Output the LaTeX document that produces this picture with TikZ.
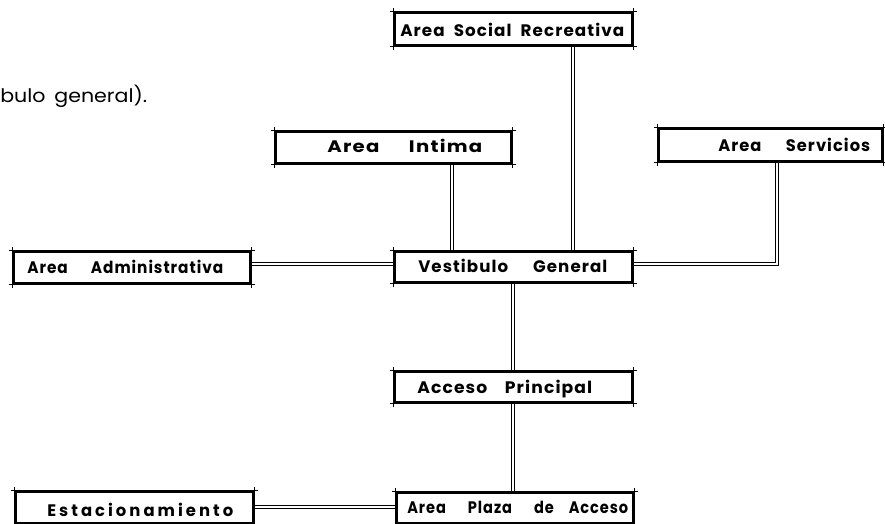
\documentclass[tikz,border=0pt]{standalone}
\usepackage{fontspec}
\usepackage{graphicx}
\usetikzlibrary{calc}
\newfontfamily\labfont{Poppins}
\newlength\lsgap
\newlength\wgap
\setlength\wgap{6pt}
\def\lsp#1{\lsi#1\relax\unskip}
\def\lsi#1{\ifx#1\relax\else\ifx#1|\hskip\wgap\else#1\hskip\lsgap\fi\expandafter\lsi\fi}
\newsavebox\labbox
\newcommand\lab[3][0.8pt]{%
  \setlength\lsgap{#1}%
  \sbox\labbox{\lsp{#3}}%
  \pgfmathsetmacro\labsx{(#2*0.75)/\the\wd\labbox}%
  \scalebox{\labsx}[1]{\usebox\labbox}}
\pgfdeclarelayer{bg}
\pgfsetlayers{bg,main}
\tikzset{
  box/.style={draw, line width=1.8pt, inner sep=0pt},
  lbl/.style={inner sep=0pt, anchor=base west, font={\labfont\bfseries\fontsize{12.5}{14}\selectfont}},
  note/.style={inner sep=0pt, anchor=base west, font={\labfont\fontsize{14}{16}\selectfont}},
  conn/.style={draw, line width=1.3pt, double=white, double distance=0.9pt},
  tick/.style={line width=0.5pt},
}
\newcommand\boxnode[5]{%
  \node[box, minimum width={(#4-#2)*0.75pt}, minimum height={(#5-#3)*0.75pt}] (#1) at ({(#2+#4)/2},{(#3+#5)/2}) {};}
\newcommand\ticks[1]{%
  \draw[tick] ($(#1.north west)+(-4,0)$) -- ($(#1.north east)+(4,0)$);
  \draw[tick] ($(#1.south west)+(-4,0)$) -- ($(#1.south east)+(4,0)$);
  \draw[tick] ($(#1.north west)+(0,-4)$) -- ($(#1.south west)+(0,4)$);
  \draw[tick] ($(#1.north east)+(0,-4)$) -- ($(#1.south east)+(0,4)$);}
\begin{document}
\begin{tikzpicture}[x=0.75pt,y=-0.75pt]
\useasboundingbox (0,0) rectangle (885,524);
\clip (0,0) rectangle (885,524);
% boxes
\boxnode{social}{395}{13}{632}{45}
\boxnode{intima}{276}{132}{511}{163}
\boxnode{serv}{659}{129}{882}{161}
\boxnode{admin}{14}{252}{250}{283}
\boxnode{vest}{395}{252}{632}{282}
\boxnode{acceso}{395}{372}{632}{402}
\boxnode{plaza}{397}{493}{633}{523}
\boxnode{estac}{16}{492}{253}{523}
\foreach \b in {social,intima,serv,admin,vest,acceso,plaza,estac}{\ticks{\b}}
% labels
\node[lbl] (social-t) at (400,37) {\lab{224}{Area|Social|Recreativa}};
\node[lbl] (intima-t) at (327,153) {\lab{155}{Area|||Intima}};
\node[lbl] (serv-t) at (718,152) {\lab{152}{Area|||Servicios}};
\node[lbl] (admin-t) at (27,273) {\lab{196}{Area|||Administrativa}};
\node[lbl] (vest-t) at (418,272) {\lab{189}{Vestibulo|||General}};
\node[lbl] (acceso-t) at (417,393) {\lab{175}{Acceso||Principal}};
\node[lbl] (plaza-t) at (407,513) {\lab{221}{Area|||Plaza|||de||Acceso}};
\node[lbl] (estac-t) at (47,516) {\lab[2.3pt]{186}{Estacionamiento}};
\node[note] (gen-t) at (0,103) {\lab[0pt]{147}{bulo|general).}};
% connector coordinates
\coordinate (c1) at (573,0);
\coordinate (c2) at (452,0);
\coordinate (sv) at (777,264);
\coordinate (ay) at (0,264);
\coordinate (c4) at (513,0);
\coordinate (c5) at (0,507);
\begin{pgfonlayer}{bg}
\draw[conn] (social.south -| c1) -- (vest.north -| c1);
\draw[conn] (intima.south -| c2) -- (vest.north -| c2);
\draw[conn] (serv.south -| sv) -- (sv) -- (sv -| vest.east);
\draw[conn] (admin.east |- ay) -- (ay -| vest.west);
\draw[conn] (vest.south -| c4) -- (acceso.north -| c4);
\draw[conn] (acceso.south -| c4) -- (plaza.north -| c4);
\draw[conn] (estac.east |- c5) -- (plaza.west |- c5);
\end{pgfonlayer}
\end{tikzpicture}
\end{document}
